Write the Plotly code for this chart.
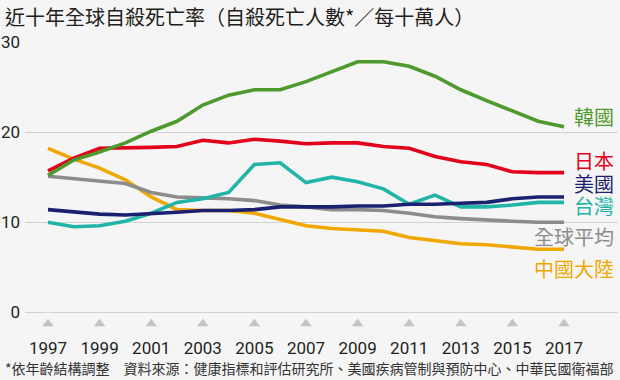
import plotly.graph_objects as go

years = list(range(1997, 2018))
korea = [15.2, 16.9, 17.8, 18.8, 20.1, 21.2, 23.0, 24.1, 24.7, 24.7, 25.6, 26.7, 27.8, 27.8, 27.3, 26.2, 24.7, 23.5, 22.4, 21.2, 20.6]
japan = [15.7, 17.1, 18.2, 18.2, 18.3, 18.4, 19.1, 18.8, 19.2, 19.0, 18.7, 18.8, 18.8, 18.4, 18.2, 17.3, 16.7, 16.4, 15.6, 15.5, 15.5]
usa = [11.4, 11.1, 10.9, 10.8, 10.9, 11.1, 11.3, 11.3, 11.4, 11.7, 11.7, 11.7, 11.8, 11.8, 12.0, 12.0, 12.1, 12.2, 12.6, 12.8, 12.8]
taiwan = [10.0, 9.5, 9.6, 10.1, 11.0, 12.2, 12.6, 13.3, 16.4, 16.6, 14.4, 15.0, 14.5, 13.7, 12.0, 13.0, 11.7, 11.7, 11.9, 12.2, 12.2]
world = [15.1, 14.8, 14.5, 14.3, 13.3, 12.8, 12.7, 12.6, 12.4, 11.9, 11.7, 11.4, 11.4, 11.3, 11.0, 10.6, 10.4, 10.2, 10.1, 10.0, 10.0]
china = [18.2, 17.0, 16.0, 14.7, 12.8, 11.4, 11.3, 11.3, 11.0, 10.3, 9.6, 9.3, 9.1, 9.0, 8.3, 8.0, 7.6, 7.5, 7.3, 7.0, 7.0]

tick_years = list(range(1997, 2018, 2))
y_ticks = [0, 10, 20, 30]

series_names = ["中國大陸", "全球平均", "台灣", "美國", "日本", "韓國"]
series_values = [china, world, taiwan, usa, japan, korea]
series_colors = ["#f0a800", "#8c8c8c", "#21b4a7", "#1b2070", "#e2001a", "#4e9a2f"]

title_text = "近十年全球自殺死亡率（自殺死亡人數*／每十萬人）"
footnote_text = "*依年齡結構調整　資料來源：健康指標和評估研究所、美國疾病管制與預防中心、中華民國衛福部"

CJK = "Noto Sans CJK TC"
NUM = "Liberation Sans Narrow, Arial Narrow, Roboto, sans-serif"

# plot-area geometry (pixels)
TOP, BOTTOM, LEFT, RIGHT = 42, 330, 25, 618
Y0_PX, PX_PER_UNIT = 312.3, 9.01
PX_PER_YEAR, X1997_PX = 25.8, 48
PH = BOTTOM - TOP
PW = RIGHT - LEFT

def px_y(y):
    return (BOTTOM - y) / PH

def px_x(x):
    return (x - LEFT) / PW

y_min = -(BOTTOM - Y0_PX) / PX_PER_UNIT
y_max = (Y0_PX - TOP) / PX_PER_UNIT
x_start = 1997 - (X1997_PX - LEFT) / PX_PER_YEAR

fig = go.Figure()
for name, vals, col in zip(series_names, series_values, series_colors):
    fig.add_trace(go.Scatter(x=years, y=vals, mode="lines", name=name,
                             line=dict(color=col, width=3.6), hoverinfo="skip"))

# triangle tick markers below the zero line
fig.add_trace(go.Scatter(x=tick_years, y=[y_min + 0.7] * len(tick_years), mode="markers",
                         marker=dict(symbol="triangle-up", size=10, color="#c4c4c4"),
                         hoverinfo="skip", showlegend=False))

label_y_px = {"韓國": 117, "日本": 160, "美國": 183, "台灣": 205, "全球平均": 236, "中國大陸": 268}
for name, col in zip(series_names, series_colors):
    fig.add_annotation(xref="paper", yref="paper", x=px_x(616), y=px_y(label_y_px[name]),
                       text=name, showarrow=False, xanchor="right", yanchor="middle",
                       font=dict(family=CJK, size=20, color=col))

fig.add_annotation(xref="paper", yref="paper", x=px_x(3), y=px_y(16),
                   text=title_text, showarrow=False, xanchor="left", yanchor="middle",
                   font=dict(family=CJK, size=20, color="#231f20"))
fig.add_annotation(xref="paper", yref="paper", x=px_x(3), y=px_y(368),
                   text=footnote_text, showarrow=False, xanchor="left", yanchor="middle",
                   font=dict(family=CJK, size=14, color="#333333"))

fig.update_layout(
    width=620, height=380,
    margin=dict(l=LEFT, r=620 - RIGHT, t=TOP, b=380 - BOTTOM),
    paper_bgcolor="#f5f5f5", plot_bgcolor="#f5f5f5",
    showlegend=False,
    xaxis=dict(range=[x_start, x_start + PW / PX_PER_YEAR], tickvals=tick_years,
               ticktext=[str(y) for y in tick_years],
               showgrid=False, zeroline=False, showline=False, ticks="", ticklabelstandoff=6,
               tickfont=dict(family=NUM, size=17, color="#231f20")),
    yaxis=dict(range=[y_min, y_max], tickvals=y_ticks, showgrid=True, gridcolor="#d2d2d2", gridwidth=1,
               zeroline=True, zerolinecolor="#d2d2d2", zerolinewidth=1, showline=False, ticks="",
               ticklabelstandoff=4, tickfont=dict(family=NUM, size=17, color="#231f20")),
)

fig.write_html("out.html", config={"displayModeBar": False},
               post_script="document.body.style.margin='0';document.body.style.overflow='hidden';")
